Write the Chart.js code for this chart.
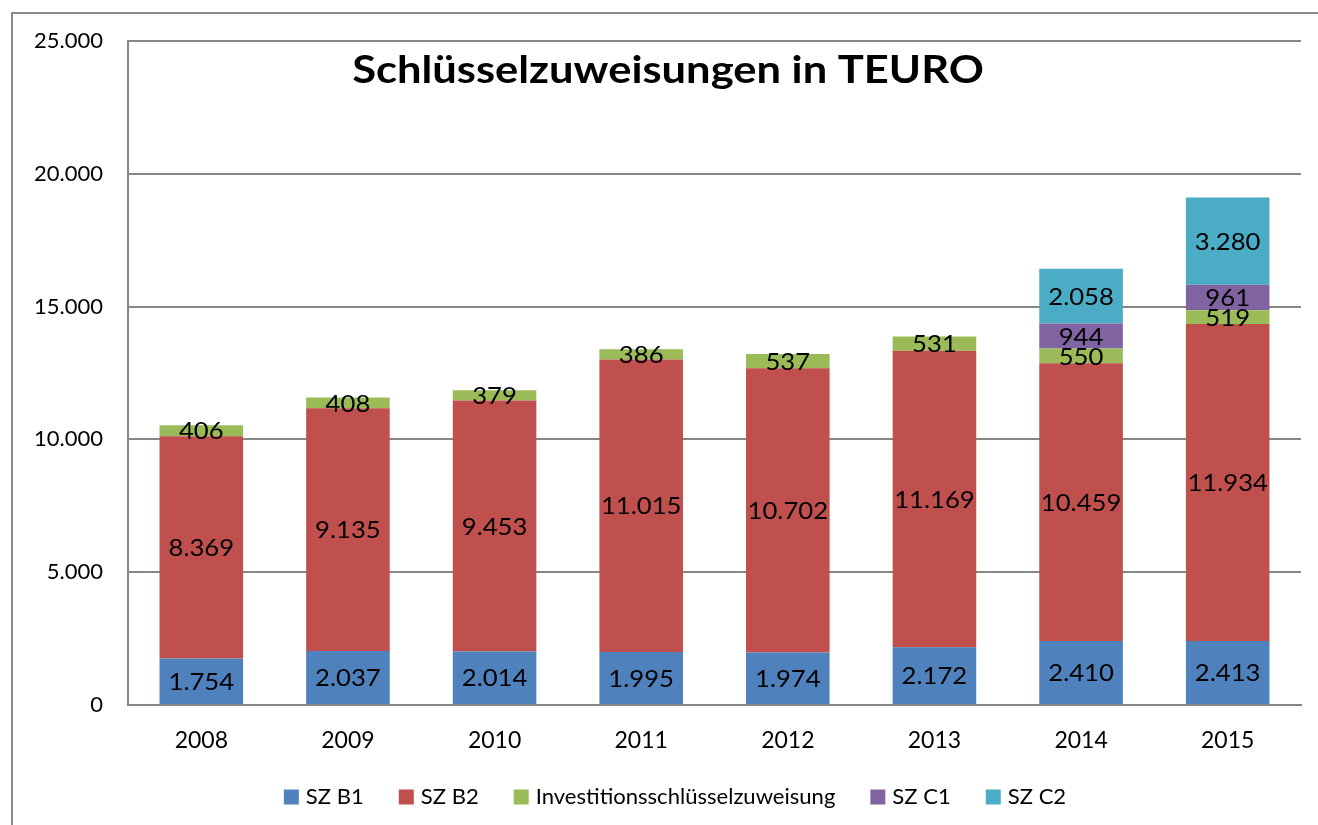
<!DOCTYPE html>
<html>
<head>
<meta charset="utf-8">
<script src="https://cdn.jsdelivr.net/npm/chart.js@4"></script>
<style>
  html, body { margin: 0; padding: 0; background: #fff; overflow: hidden; }
  #frame { position: absolute; left: 11px; top: 12px; width: 1400px; height: 900px; border: 2px solid #8c8c8c; }
  #wrap { position: absolute; left: 0; top: 0; width: 1318px; height: 825px; }
</style>
</head>
<body>
<div id="frame"></div>
<div id="wrap"><canvas id="myChart"></canvas></div>
<script>
var years = ["2008", "2009", "2010", "2011", "2012", "2013", "2014", "2015"];
var szB1 = [1754, 2037, 2014, 1995, 1974, 2172, 2410, 2413];
var szB2 = [8369, 9135, 9453, 11015, 10702, 11169, 10459, 11934];
var invest = [406, 408, 379, 386, 537, 531, 550, 519];
var szC1 = [null, null, null, null, null, null, 944, 961];
var szC2 = [null, null, null, null, null, null, 2058, 3280];
var yTicks = [0, 5000, 10000, 15000, 20000, 25000];

var FONT = "Lato, 'Open Sans', sans-serif";

function fmt(v) {
    // german thousands separator
    var s = String(Math.round(v));
    return s.replace(/\B(?=(\d{3})+(?!\d))/g, ".");
}

// text drawn a little wider, the original font is a wide-ish Calibri
function wideText(ctx, txt, x, y, sx) {
    ctx.save();
    ctx.translate(x, y);
    ctx.scale(sx, 1);
    ctx.fillText(txt, 0, 0);
    ctx.restore();
}

// value labels in the middle of every segment
var segLabels = {
    id: 'segLabels',
    afterDatasetsDraw: function(chart) {
        var ctx = chart.ctx;
        ctx.save();
        ctx.font = "24px " + FONT;
        ctx.fillStyle = "#000";
        ctx.textAlign = "center";
        ctx.textBaseline = "middle";
        chart.data.datasets.forEach(function(ds, i) {
            var meta = chart.getDatasetMeta(i);
            meta.data.forEach(function(bar, j) {
                var v = ds.data[j];
                if (v == null) return;
                var mid = (bar.y + bar.base) / 2;
                wideText(ctx, fmt(v), bar.x, mid + 1, 1.07);
            });
        });
        ctx.restore();
    }
};

// title sits inside the plot area
var innerTitle = {
    id: 'innerTitle',
    afterDraw: function(chart) {
        var ctx = chart.ctx;
        ctx.save();
        ctx.font = "bold 38px " + FONT;
        ctx.fillStyle = "#000";
        ctx.textAlign = "center";
        ctx.textBaseline = "alphabetic";
        wideText(ctx, "Schlüsselzuweisungen in TEURO", 668, 83, 1.145);
        ctx.restore();
    }
};

// legend row at the bottom, drawn from the datasets
var bottomLegend = {
    id: 'bottomLegend',
    afterDraw: function(chart) {
        var ctx = chart.ctx;
        var box = 15, gap = 7, space = 35, sx = 1.05;
        ctx.save();
        ctx.font = "21px " + FONT;
        ctx.textBaseline = "middle";
        ctx.textAlign = "left";
        var items = chart.data.datasets.map(function(ds) {
            return { text: ds.label, color: ds.backgroundColor, w: ctx.measureText(ds.label).width * sx };
        });
        var total = 0;
        items.forEach(function(it, i) { total += box + gap + it.w + (i < items.length - 1 ? space : 0); });
        var x = 675 - total / 2, y = 797;
        items.forEach(function(it) {
            ctx.fillStyle = it.color;
            ctx.fillRect(x, y - box / 2, box, box);
            ctx.fillStyle = "#000";
            wideText(ctx, it.text, x + box + gap, y, sx);
            x += box + gap + it.w + space;
        });
        ctx.restore();
    }
};

var ctx = document.getElementById("myChart").getContext('2d');
var myChart = new Chart(ctx, {
    type: 'bar',
    data: {
        labels: years,
        datasets: [
            { label: 'SZ B1', data: szB1, backgroundColor: '#4F81BD' },
            { label: 'SZ B2', data: szB2, backgroundColor: '#C0504D' },
            { label: 'Investitionsschlüsselzuweisung', data: invest, backgroundColor: '#9BBB59' },
            { label: 'SZ C1', data: szC1, backgroundColor: '#8064A2' },
            { label: 'SZ C2', data: szC2, backgroundColor: '#4BACC6' }
        ]
    },
    options: {
        responsive: true,
        maintainAspectRatio: false,
        animation: false,
        datasets: { bar: { categoryPercentage: 1, barPercentage: 0.57 } },
        layout: { padding: { top: 41, right: 17, left: 0, bottom: 62 } },
        plugins: {
            legend: { display: false },
            tooltip: { enabled: false }
        },
        scales: {
            x: {
                stacked: true,
                grid: { display: false, drawTicks: false },
                border: { color: '#868686', width: 2 },
                ticks: { font: { family: FONT, size: 23 }, color: '#000', padding: 22 },
                afterFit: function(s) { s.height = 58; }
            },
            y: {
                stacked: true,
                min: 0,
                max: 25000,
                afterBuildTicks: function(s) { s.ticks = yTicks.map(function(v) { return { value: v }; }); },
                grid: { color: '#868686', lineWidth: 2, drawTicks: false },
                border: { color: '#868686', width: 2 },
                ticks: {
                    font: { family: FONT, size: 22 }, color: '#000', padding: 25,
                    callback: function(v) { return fmt(v); }
                },
                afterFit: function(s) { s.width = 128; }
            }
        }
    },
    plugins: [segLabels, innerTitle, bottomLegend]
});
</script>
</body>
</html>
